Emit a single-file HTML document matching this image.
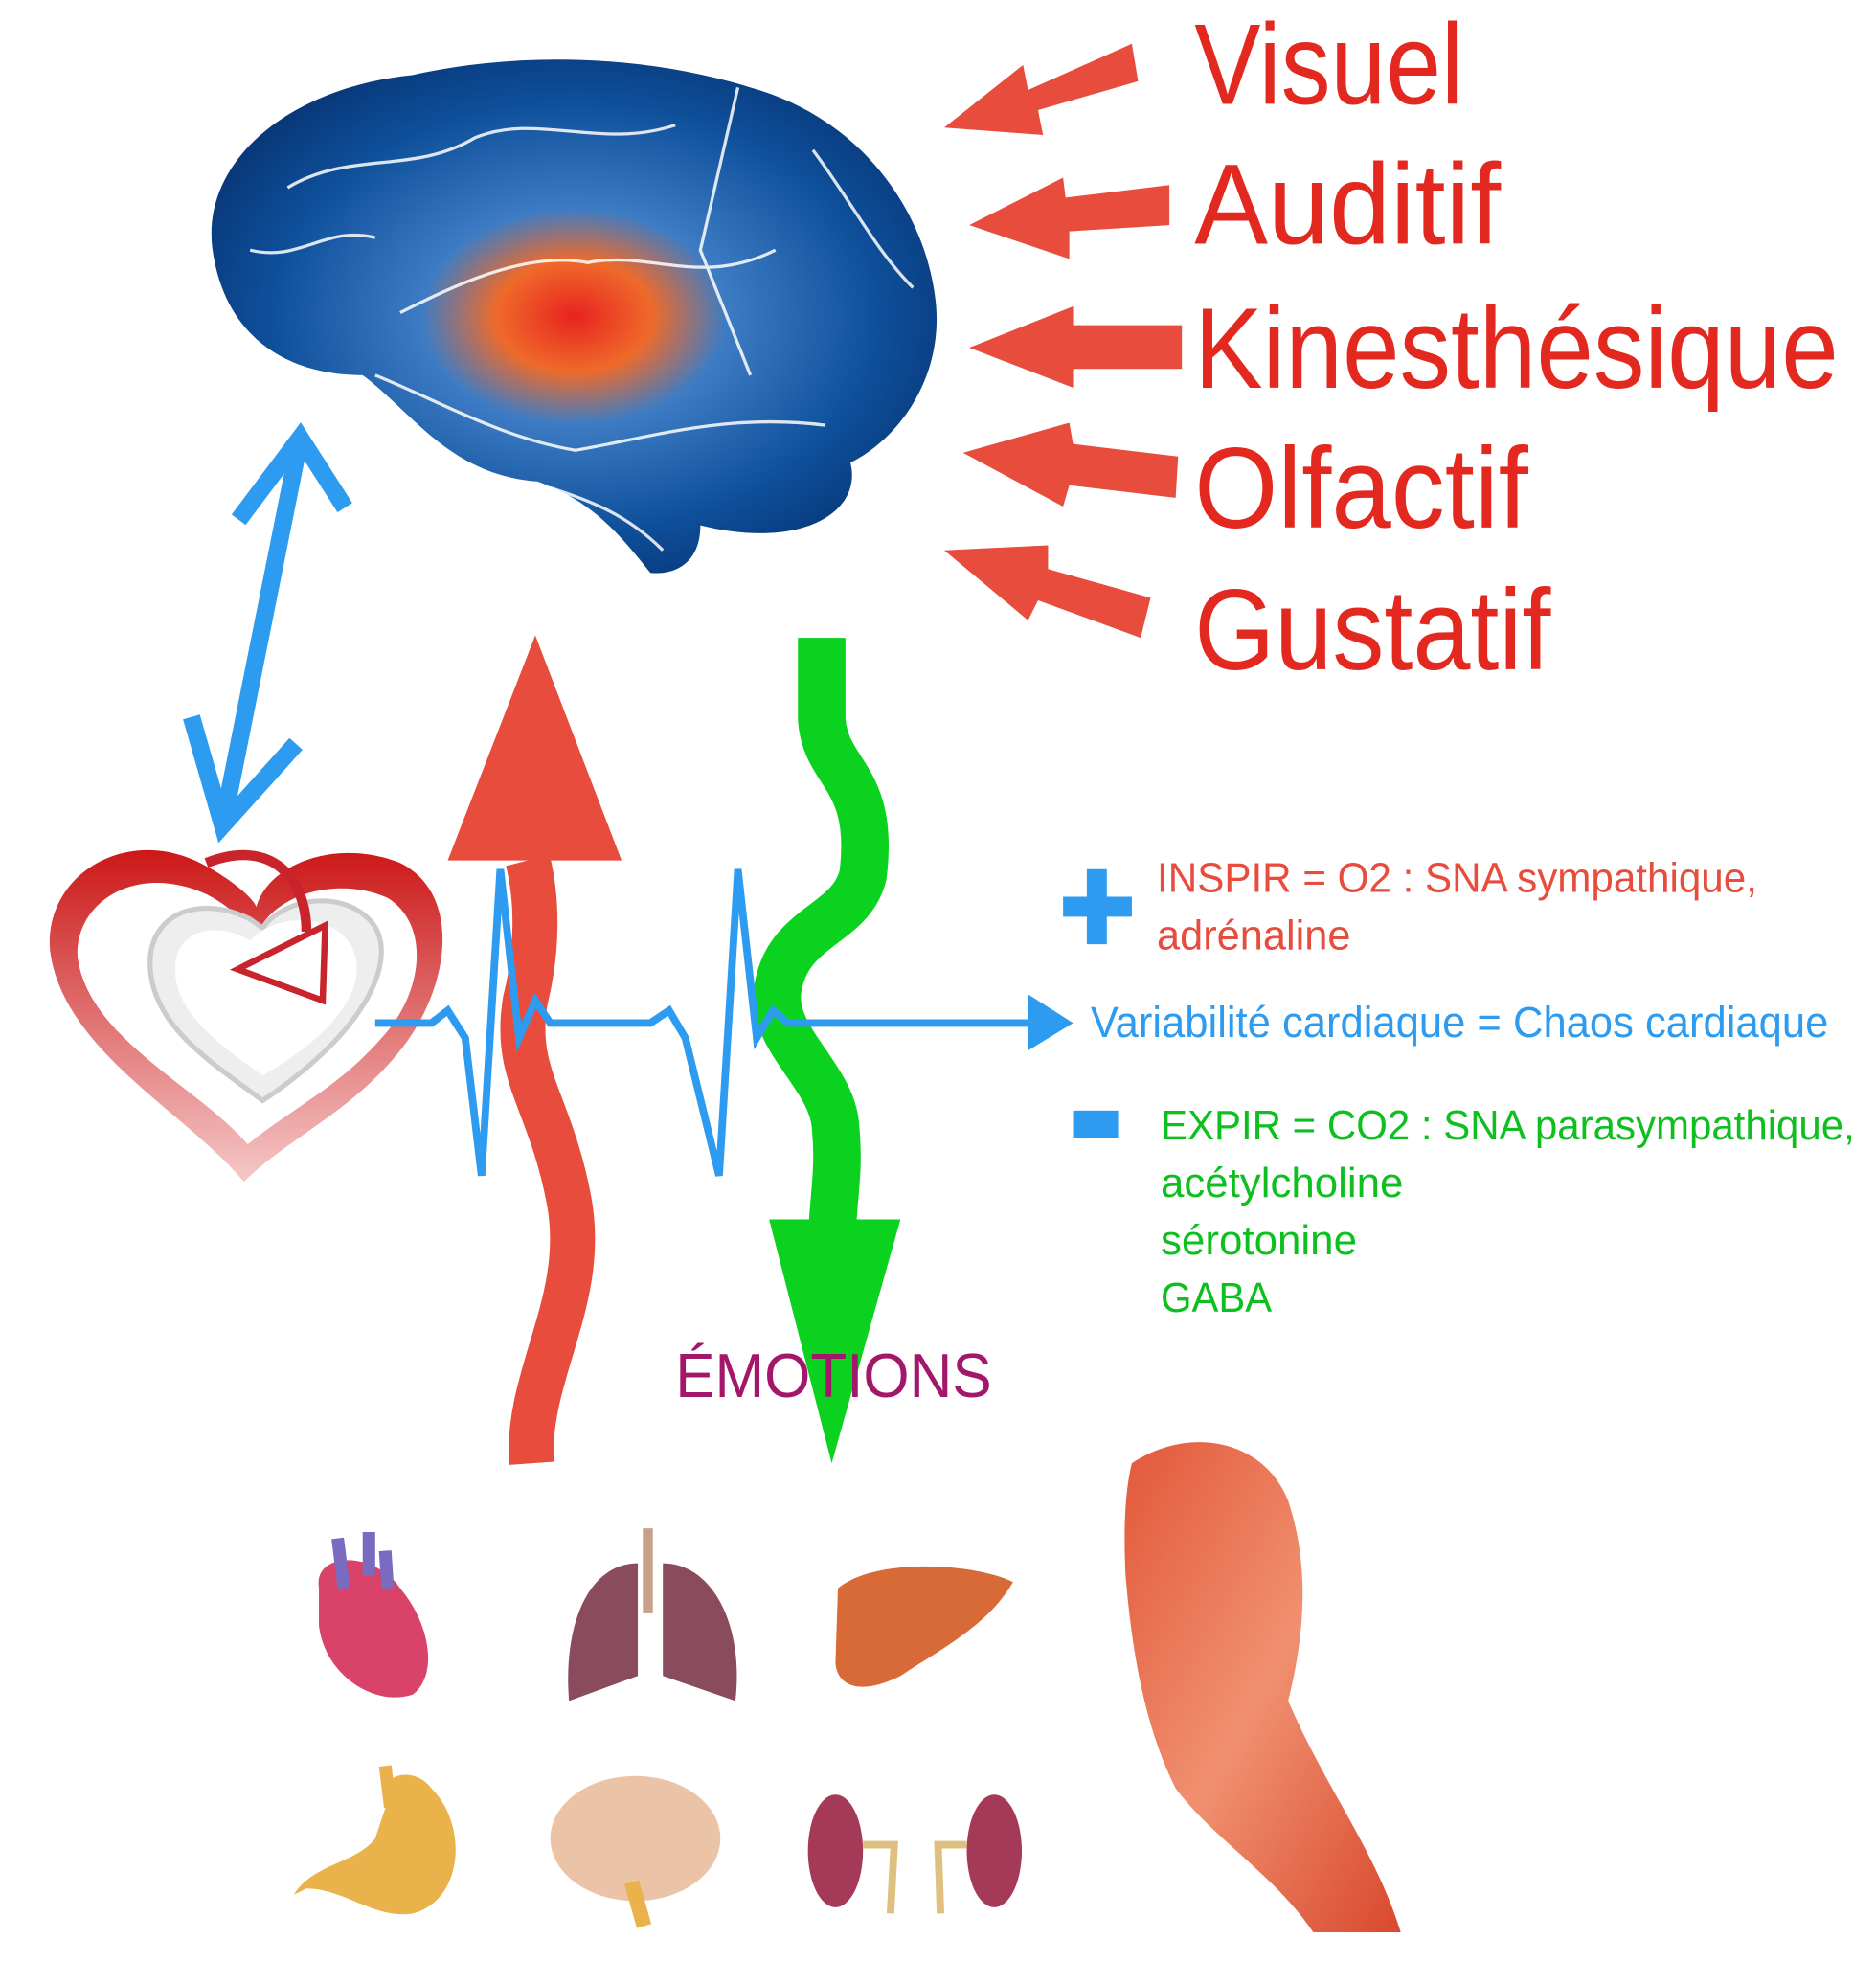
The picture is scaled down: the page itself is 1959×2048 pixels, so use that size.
<!DOCTYPE html>
<html><head><meta charset="utf-8"><style>
html,body{margin:0;padding:0;background:#fff;}
svg{display:block;}
text{font-family:"Liberation Sans",sans-serif;}
</style></head><body>
<svg width="1959" height="2048" viewBox="0 0 1500 1568" preserveAspectRatio="none" xmlns="http://www.w3.org/2000/svg">
<defs>
<radialGradient id="bg" cx="0.5" cy="0.5" r="0.6">
<stop offset="0" stop-color="#e8231f"/>
<stop offset="0.18" stop-color="#ef6a2a"/>
<stop offset="0.35" stop-color="#3d7cc4"/>
<stop offset="0.7" stop-color="#0e4f9a"/>
<stop offset="1" stop-color="#07306f"/>
</radialGradient>
<linearGradient id="hg" x1="0" y1="0" x2="0" y2="1">
<stop offset="0" stop-color="#cc1818"/><stop offset="1" stop-color="#f5c8c8"/>
</linearGradient>
<linearGradient id="arm" x1="0" y1="0" x2="1" y2="1">
<stop offset="0" stop-color="#e2583a"/><stop offset="0.5" stop-color="#f09070"/><stop offset="1" stop-color="#d9482e"/>
</linearGradient>
</defs>

<path d="M170,200 C160,130 230,70 330,60 C420,40 520,45 600,70 C690,95 740,170 748,240 C755,300 720,350 680,370 C690,410 640,440 560,420 C560,450 540,460 520,458 C490,420 470,400 430,385 C360,380 330,330 290,300 C230,300 180,270 170,200 Z" fill="url(#bg)"/>
<g stroke="#fff" stroke-width="2.5" fill="none" opacity="0.85">
<path d="M230,150 C280,120 330,140 380,110 C430,90 480,120 540,100"/>
<path d="M320,250 C360,230 420,200 470,210 C520,200 560,230 620,200"/>
<path d="M590,70 L560,200 L600,300"/>
<path d="M300,300 C350,320 400,350 460,360 C520,350 580,330 660,340"/>
<path d="M200,200 C240,210 260,180 300,190"/>
<path d="M650,120 C680,160 700,200 730,230"/>
<path d="M440,390 C470,400 500,410 530,440"/>
</g>

<g fill="#e74c3c">
<polygon points="905,35 910,65 830,88 834,108 755,102 818,52 822,72"/>
<polygon points="935,148 935,180 855,185 855,207 775,180 850,142 852,158"/>
<polygon points="945,260 945,295 858,295 858,310 775,278 858,245 858,260"/>
<polygon points="942,365 940,398 855,388 850,405 770,362 855,338 858,355"/>
<polygon points="920,478 912,510 830,480 822,496 755,440 838,436 838,455"/>
</g>
<g fill="#e3281f" font-size="92">
<text x="955" y="83" textLength="215" lengthAdjust="spacingAndGlyphs">Visuel</text>
<text x="955" y="195" textLength="245" lengthAdjust="spacingAndGlyphs">Auditif</text>
<text x="955" y="310" textLength="515" lengthAdjust="spacingAndGlyphs">Kinesthésique</text>
<text x="955" y="422" textLength="267" lengthAdjust="spacingAndGlyphs">Olfactif</text>
<text x="955" y="535" textLength="285" lengthAdjust="spacingAndGlyphs">Gustatif</text>
</g>

<g stroke="#2d9bf0" stroke-width="14" fill="none" stroke-linecap="square">
<line x1="238" y1="360" x2="180" y2="650"/>
<polyline points="195,410 240,350 272,400"/>
<polyline points="155,580 178,660 232,600"/>
</g>

<path d="M195,945 C150,890 50,840 40,760 C35,700 100,660 160,690 C180,700 200,715 205,725 C215,690 270,670 320,690 C370,715 360,790 320,840 C280,890 230,910 195,945 Z" fill="url(#hg)"/>
<path d="M198,915 C160,870 70,830 62,765 C60,720 110,690 165,715 C185,725 198,740 205,748 C218,715 270,700 310,718 C345,740 338,795 305,830 C270,870 235,885 198,915 Z" fill="#fff"/>
<path d="M210,880 C170,850 120,820 120,770 C120,730 160,715 200,735 L210,742 C225,720 270,710 295,735 C320,760 300,820 210,880 Z" fill="#eee" stroke="#ccc" stroke-width="4"/>
<path d="M210,860 C175,835 140,810 140,775 C140,745 170,735 200,752 C220,730 265,730 280,755 C295,780 280,820 210,860 Z" fill="#fff"/>
<path d="M165,690 C215,670 245,700 245,745" stroke="#c9232b" stroke-width="8" fill="none"/>
<polygon points="190,775 260,740 258,800" fill="#fff" stroke="#c9232b" stroke-width="5"/>

<path d="M425,1170 C420,1100 470,1040 455,960 C440,880 410,860 420,800 C430,760 430,720 422,688" stroke="#e74c3c" stroke-width="36" fill="none"/>
<polygon points="428,508 497,688 358,688" fill="#e74c3c"/>

<path d="M657,510 L657,575 C660,620 700,620 690,700 C680,740 630,740 622,790 C615,830 665,860 668,900 C672,940 665,960 665,1000" stroke="#0ad21f" stroke-width="38" fill="none"/>
<polygon points="615,975 720,975 665,1170" fill="#0ad21f"/>

<polyline points="300,818 345,818 358,808 372,830 385,940 400,695 415,830 428,800 440,818 520,818 535,808 548,830 575,940 590,695 605,830 618,808 630,818 835,818" stroke="#2d9bf0" stroke-width="6" fill="none"/>
<polygon points="822,795 858,818 822,840" fill="#2d9bf0"/>

<rect x="850" y="717" width="55" height="16" fill="#2d9bf0"/>
<rect x="869" y="695" width="16" height="60" fill="#2d9bf0"/>
<text x="925" y="713" font-size="33" fill="#e74c3c" textLength="480" lengthAdjust="spacingAndGlyphs">INSPIR = O2 : SNA sympathique,</text>
<text x="925" y="759" font-size="33" fill="#e74c3c" textLength="155" lengthAdjust="spacingAndGlyphs">adrénaline</text>
<text x="872" y="829" font-size="35" fill="#2d9bf0" textLength="590" lengthAdjust="spacingAndGlyphs">Variabilité cardiaque = Chaos cardiaque</text>
<rect x="858" y="888" width="36" height="22" fill="#2d9bf0"/>
<g font-size="33" fill="#0ec01f">
<text x="928" y="911" textLength="555" lengthAdjust="spacingAndGlyphs">EXPIR = CO2 : SNA parasympathique,</text>
<text x="928" y="957" textLength="194" lengthAdjust="spacingAndGlyphs">acétylcholine</text>
<text x="928" y="1003" textLength="157" lengthAdjust="spacingAndGlyphs">sérotonine</text>
<text x="928" y="1049" textLength="89" lengthAdjust="spacingAndGlyphs">GABA</text>
</g>
<text x="540" y="1117" font-size="50" fill="#a3176b" textLength="253" lengthAdjust="spacingAndGlyphs">ÉMOTIONS</text>

<path d="M255,1270 C250,1240 300,1240 320,1270 C345,1300 350,1340 330,1355 C300,1365 260,1340 255,1300 Z" fill="#d9436a"/>
<path d="M270,1230 L275,1270 M295,1225 L295,1260 M308,1240 L310,1270" stroke="#7a6ac0" stroke-width="10"/>
<path d="M510,1250 C470,1250 450,1300 455,1360 L510,1340 Z" fill="#8a4b5c"/>
<path d="M530,1250 C570,1250 595,1300 588,1360 L530,1340 Z" fill="#8a4b5c"/>
<path d="M518,1222 L518,1290" stroke="#c9a08a" stroke-width="8"/>
<path d="M670,1270 C700,1245 780,1250 810,1265 C790,1300 750,1320 720,1340 C690,1355 670,1350 668,1330 Z" fill="#d86a37"/>
<path d="M310,1440 C300,1420 330,1410 345,1430 C375,1460 370,1520 330,1530 C300,1535 275,1510 245,1510 L235,1515 C250,1490 285,1490 300,1470 Z" fill="#e9b24a"/>
<path d="M308,1412 L312,1445" stroke="#e9b24a" stroke-width="10"/>
<ellipse cx="508" cy="1470" rx="68" ry="50" fill="#ebc3a6"/>
<path d="M505,1505 L515,1540" stroke="#e9b24a" stroke-width="12"/>
<ellipse cx="668" cy="1480" rx="22" ry="45" fill="#a53a58"/>
<ellipse cx="795" cy="1480" rx="22" ry="45" fill="#a53a58"/>
<path d="M690,1475 L715,1475 L712,1530 M773,1475 L750,1475 L752,1530" stroke="#e0c080" stroke-width="6" fill="none"/>

<path d="M905,1170 C950,1140 1010,1150 1030,1200 C1050,1260 1040,1320 1030,1360 C1060,1430 1100,1480 1120,1545 L1050,1545 C1020,1500 970,1470 940,1430 C915,1380 905,1320 900,1260 C898,1220 900,1190 905,1170 Z" fill="url(#arm)"/>
</svg>
</body></html>
